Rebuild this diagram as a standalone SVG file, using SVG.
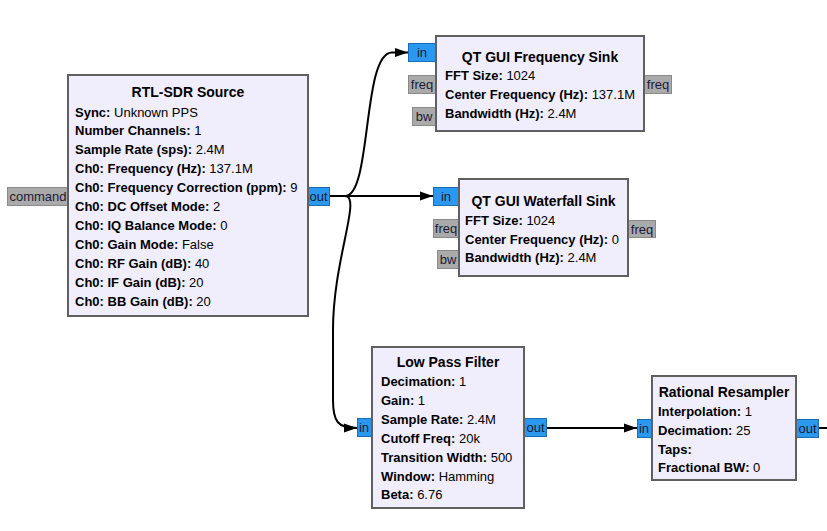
<svg xmlns="http://www.w3.org/2000/svg" width="827" height="531" viewBox="0 0 827 531">
<style>
.bg{fill:#ffffff}
.blk{fill:#f0eefd;stroke:#606060;stroke-width:2}
.pin{fill:#2b98f0;stroke:#1b6cb5;stroke-width:1}
.pmsg{fill:#aaaaaa;stroke:#8a8a8a;stroke-width:1}
.ptxt{font-family:"Liberation Sans",Arial,sans-serif;font-size:13px;fill:#1a1a33;text-anchor:middle}
.title{font-family:"Liberation Sans",Arial,sans-serif;font-size:14px;font-weight:bold;fill:#000;text-anchor:middle}
.body{font-family:"Liberation Sans",Arial,sans-serif;font-size:13px;fill:#000}
.body tspan.k{font-weight:bold}
.conn{fill:none;stroke:#000;stroke-width:2}
</style>
<defs>
<marker id="arr" markerUnits="userSpaceOnUse" markerWidth="14" markerHeight="10" refX="13" refY="5" orient="auto">
<path d="M0,0.5 L13,5 L0,9.5 z" fill="#000"/>
</marker>
</defs>
<rect class="bg" x="0" y="0" width="827" height="531"/>

<g id="connectors">
<path class="conn" d="M330,196 L345,196 C372,196 362,52.5 392,52.5 L408,52.5" marker-end="url(#arr)"/>
<path class="conn" d="M330,196 L433,196" marker-end="url(#arr)"/>
<path class="conn" d="M345,196 C362,196 333,260 333,330 L333,400 C333,422 338,428 357,428" marker-end="url(#arr)"/>
<path class="conn" d="M547,428 L637,428" marker-end="url(#arr)"/>
<path class="conn" d="M818,428 L830,428"/>
</g>

<g id="rtl_sdr_source">
<rect class="pmsg" x="7.5" y="187.5" width="61" height="18"/>
<text class="ptxt" x="38" y="201">command</text>
<rect class="pin" x="307.5" y="187.5" width="22" height="18"/>
<text class="ptxt" x="318.5" y="201">out</text>
<rect class="blk" x="68" y="75" width="240" height="241"/>
<text class="title" x="188" y="97.3">RTL-SDR Source</text>
<text class="body" x="75" y="116.5"><tspan class="k">Sync:</tspan> Unknown PPS</text>
<text class="body" x="75" y="135.4"><tspan class="k">Number Channels:</tspan> 1</text>
<text class="body" x="75" y="154.3"><tspan class="k">Sample Rate (sps):</tspan> 2.4M</text>
<text class="body" x="75" y="173.2"><tspan class="k">Ch0: Frequency (Hz):</tspan> 137.1M</text>
<text class="body" x="75" y="192.1"><tspan class="k">Ch0: Frequency Correction (ppm):</tspan> 9</text>
<text class="body" x="75" y="211"><tspan class="k">Ch0: DC Offset Mode:</tspan> 2</text>
<text class="body" x="75" y="229.9"><tspan class="k">Ch0: IQ Balance Mode:</tspan> 0</text>
<text class="body" x="75" y="248.8"><tspan class="k">Ch0: Gain Mode:</tspan> False</text>
<text class="body" x="75" y="267.7"><tspan class="k">Ch0: RF Gain (dB):</tspan> 40</text>
<text class="body" x="75" y="286.6"><tspan class="k">Ch0: IF Gain (dB):</tspan> 20</text>
<text class="body" x="75" y="305.5"><tspan class="k">Ch0: BB Gain (dB):</tspan> 20</text>
</g>

<g id="qt_gui_freq_sink">
<rect class="pin" x="408.5" y="43.5" width="27" height="18"/>
<text class="ptxt" x="422" y="57">in</text>
<rect class="pmsg" x="408.5" y="75.5" width="27" height="18"/>
<text class="ptxt" x="422" y="89">freq</text>
<rect class="pmsg" x="412.5" y="107.5" width="23" height="18"/>
<text class="ptxt" x="424" y="121">bw</text>
<rect class="pmsg" x="644.5" y="75.5" width="27" height="18"/>
<text class="ptxt" x="658" y="89">freq</text>
<rect class="blk" x="436" y="36" width="208" height="95"/>
<text class="title" x="540" y="61.5">QT GUI Frequency Sink</text>
<text class="body" x="445" y="80.3"><tspan class="k">FFT Size:</tspan> 1024</text>
<text class="body" x="445" y="99.2"><tspan class="k">Center Frequency (Hz):</tspan> 137.1M</text>
<text class="body" x="445" y="118.1"><tspan class="k">Bandwidth (Hz):</tspan> 2.4M</text>
</g>

<g id="qt_gui_waterfall_sink">
<rect class="pin" x="433.5" y="187.5" width="26" height="18"/>
<text class="ptxt" x="446" y="201">in</text>
<rect class="pmsg" x="433.5" y="219.5" width="26" height="18"/>
<text class="ptxt" x="446" y="233">freq</text>
<rect class="pmsg" x="437.5" y="250.5" width="22" height="18"/>
<text class="ptxt" x="448" y="264">bw</text>
<rect class="pmsg" x="628.5" y="220.5" width="27" height="17"/>
<text class="ptxt" x="642" y="233.5">freq</text>
<rect class="blk" x="459" y="179" width="169" height="97"/>
<text class="title" x="543.5" y="205.5">QT GUI Waterfall Sink</text>
<text class="body" x="465" y="224.5"><tspan class="k">FFT Size:</tspan> 1024</text>
<text class="body" x="465" y="243.5"><tspan class="k">Center Frequency (Hz):</tspan> 0</text>
<text class="body" x="465" y="262.4"><tspan class="k">Bandwidth (Hz):</tspan> 2.4M</text>
</g>

<g id="low_pass_filter">
<rect class="pin" x="357.5" y="418.5" width="15" height="18"/>
<text class="ptxt" x="364" y="432">in</text>
<rect class="pin" x="524.5" y="418.5" width="22" height="18"/>
<text class="ptxt" x="535.5" y="432">out</text>
<rect class="blk" x="372" y="347" width="152" height="161"/>
<text class="title" x="448" y="367.3">Low Pass Filter</text>
<text class="body" x="381" y="386"><tspan class="k">Decimation:</tspan> 1</text>
<text class="body" x="381" y="404.9"><tspan class="k">Gain:</tspan> 1</text>
<text class="body" x="381" y="423.8"><tspan class="k">Sample Rate:</tspan> 2.4M</text>
<text class="body" x="381" y="442.7"><tspan class="k">Cutoff Freq:</tspan> 20k</text>
<text class="body" x="381" y="461.6"><tspan class="k">Transition Width:</tspan> 500</text>
<text class="body" x="381" y="480.5"><tspan class="k">Window:</tspan> Hamming</text>
<text class="body" x="381" y="499.4"><tspan class="k">Beta:</tspan> 6.76</text>
</g>

<g id="rational_resampler">
<rect class="pin" x="637.5" y="419.5" width="15" height="18"/>
<text class="ptxt" x="644" y="433">in</text>
<rect class="pin" x="796.5" y="419.5" width="22" height="18"/>
<text class="ptxt" x="807.5" y="433">out</text>
<rect class="blk" x="652" y="376" width="144" height="104"/>
<text class="title" x="724" y="396.7">Rational Resampler</text>
<text class="body" x="658" y="415.7"><tspan class="k">Interpolation:</tspan> 1</text>
<text class="body" x="658" y="434.6"><tspan class="k">Decimation:</tspan> 25</text>
<text class="body" x="658" y="453.5"><tspan class="k">Taps:</tspan></text>
<text class="body" x="658" y="472.4"><tspan class="k">Fractional BW:</tspan> 0</text>
</g>
</svg>
